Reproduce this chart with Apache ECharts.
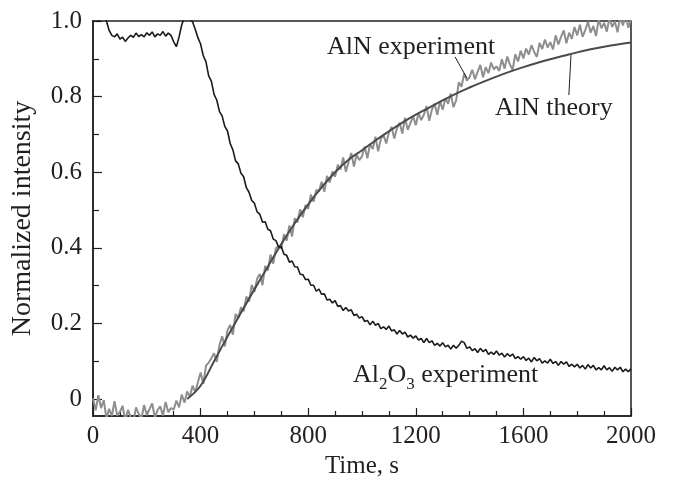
<!DOCTYPE html>
<html>
<head>
<meta charset="utf-8">
<script src="https://cdn.jsdelivr.net/npm/echarts@6/dist/echarts.min.js"></script>
<style>html,body{margin:0;padding:0;background:#fff}#c{width:673px;height:478px}</style>
</head>
<body>
<div id="c"></div>
<script>
// time grid (s) for the measured curves, step 10 s
var timeStep = 10;
// Al2O3 experiment (black)
var al2o3Exp = [
1.00,1.01,1.00,1.02,1.01,1.00,0.975,0.962,0.958,0.966,
0.952,0.957,0.946,0.955,0.962,0.957,0.968,0.959,0.964,0.958,
0.969,0.962,0.971,0.958,0.966,0.962,0.972,0.960,0.968,0.962,
0.945,0.932,0.958,0.990,1.010,1.010,1.005,0.998,0.978,0.956,
0.939,0.908,0.892,0.855,0.841,0.806,0.791,0.761,0.749,0.721,
0.709,0.676,0.659,0.630,0.622,0.597,0.588,0.559,0.547,0.525,
0.518,0.495,0.489,0.468,0.469,0.449,0.445,0.423,0.419,0.402,
0.403,0.383,0.380,0.362,0.365,0.350,0.349,0.330,0.329,0.316,
0.317,0.301,0.301,0.285,0.291,0.277,0.278,0.262,0.264,0.254,
0.260,0.245,0.247,0.234,0.242,0.233,0.236,0.221,0.224,0.214,
0.218,0.205,0.208,0.196,0.206,0.195,0.200,0.186,0.191,0.184,
0.193,0.180,0.183,0.172,0.181,0.172,0.177,0.164,0.169,0.161,
0.167,0.156,0.160,0.149,0.160,0.149,0.154,0.142,0.147,0.140,
0.149,0.138,0.142,0.132,0.142,0.134,0.142,0.153,0.149,0.134,
0.138,0.128,0.133,0.123,0.134,0.125,0.131,0.118,0.124,0.118,
0.127,0.116,0.121,0.111,0.120,0.113,0.119,0.107,0.112,0.105,
0.112,0.102,0.108,0.098,0.110,0.101,0.107,0.095,0.101,0.095,
0.105,0.094,0.099,0.089,0.099,0.092,0.098,0.086,0.092,0.085,
0.092,0.082,0.089,0.079,0.091,0.082,0.089,0.077,0.083,0.077,
0.088,0.077,0.083,0.073,0.084,0.077,0.084,0.072,0.079,0.072,
0.080
];
// AlN experiment (grey)
var alnExp = [
0.002,-0.030,0.010,-0.024,-0.003,-0.052,-0.026,-0.045,-0.006,-0.044,
-0.034,-0.018,-0.057,-0.029,-0.048,-0.061,-0.022,-0.040,-0.052,-0.016,
-0.043,-0.027,-0.012,-0.049,-0.030,-0.019,-0.044,-0.008,-0.035,-0.024,
-0.028,-0.004,-0.022,0.012,-0.010,0.020,0.006,0.035,0.018,0.044,
0.070,0.040,0.088,0.096,0.108,0.121,0.098,0.142,0.166,0.139,
0.182,0.196,0.170,0.225,0.214,0.243,0.232,0.271,0.258,0.302,
0.283,0.318,0.331,0.301,0.352,0.340,0.382,0.358,0.399,0.405,
0.398,0.436,0.419,0.459,0.430,0.478,0.467,0.502,0.481,0.513,
0.503,0.541,0.522,0.553,0.549,0.575,0.548,0.590,0.573,0.602,
0.588,0.620,0.607,0.639,0.601,0.627,0.651,0.615,0.646,0.632,
0.642,0.668,0.637,0.675,0.661,0.694,0.655,0.688,0.699,0.676,
0.705,0.720,0.689,0.716,0.731,0.702,0.744,0.712,0.730,0.748,
0.724,0.756,0.738,0.752,0.775,0.736,0.766,0.781,0.752,0.788,
0.765,0.796,0.781,0.808,0.772,0.790,0.838,0.826,0.861,0.842,
0.852,0.871,0.846,0.866,0.884,0.851,0.878,0.862,0.890,0.872,
0.880,0.868,0.899,0.874,0.906,0.885,0.871,0.912,0.893,0.921,
0.901,0.927,0.911,0.936,0.918,0.905,0.942,0.926,0.951,0.930,
0.944,0.925,0.962,0.938,0.958,0.975,0.941,0.969,0.953,0.984,
0.962,0.990,0.958,0.976,0.998,0.969,0.987,0.960,1.005,0.981,
0.995,0.972,1.008,0.984,0.999,0.970,1.012,0.988,1.017,0.982,
1.005
];
// AlN theory (smooth), times and values
var theoryTime = [350,400,450,500,550,600,650,700,750,800,850,900,950,1000,1050,1100,1150,1200,1250,1300,1350,1400,1450,1500,1550,1600,1650,1700,1750,1800,1850,1900,1950,2000];
var theoryVal  = [0.0,0.035,0.10,0.165,0.228,0.29,0.35,0.41,0.465,0.515,0.56,0.60,0.633,0.658,0.684,0.708,0.731,0.752,0.771,0.79,0.808,0.824,0.839,0.853,0.866,0.878,0.889,0.899,0.908,0.917,0.925,0.932,0.938,0.943];
// axis ticks
var yLabels = [0,0.2,0.4,0.6,0.8,1.0];
var yMinor = [0.1,0.3,0.5,0.7,0.9];

function pairs(arr){ return arr.map(function(v,i){ return [i*timeStep, v]; }); }
var theoryData = theoryTime.map(function(t,i){ return [t, theoryVal[i]]; });

var FONT = '"Liberation Serif", "DejaVu Serif", serif';
var TXT = '#231f20';

var chart = echarts.init(document.getElementById('c'), null, {renderer:'canvas'});
chart.setOption({
  animation:false,
  backgroundColor:'#fff',
  grid:{left:93, top:21, right:42, bottom:62, show:true, borderColor:'#231f20', borderWidth:1.5, backgroundColor:'transparent', outerBoundsMode:'none'},
  xAxis:{
    type:'value', min:0, max:2000, interval:400,
    axisLine:{show:true, onZero:false, lineStyle:{color:'#231f20', width:1.5}},
    axisTick:{show:true, inside:true, length:8, lineStyle:{color:'#231f20', width:1.2}},
    minorTick:{show:true, splitNumber:4, length:5, lineStyle:{color:'#231f20', width:1.2}},
    splitLine:{show:false},
    axisLabel:{fontFamily:FONT, fontSize:25, color:TXT, margin:8, formatter:function(v){ return String(v); }},
    name:'Time, s', nameLocation:'middle', nameGap:35,
    nameTextStyle:{fontFamily:FONT, fontSize:25, color:TXT}
  },
  yAxis:[{
    type:'value', min:-0.045, max:1.0,
    axisLine:{show:true, onZero:false, lineStyle:{color:'#231f20', width:1.5}},
    axisTick:{show:true, inside:true, length:9, customValues:yLabels, lineStyle:{color:'#231f20', width:1.2}},
    splitLine:{show:false},
    axisLabel:{fontFamily:FONT, fontSize:25, color:TXT, margin:11, customValues:yLabels,
      formatter:function(v){ return v===0 ? '0' : v.toFixed(1); }},
    name:'Normalized intensity', nameLocation:'middle', nameGap:56, nameRotate:90,
    nameTextStyle:{fontFamily:FONT, fontSize:28, color:TXT}
  },{
    type:'value', min:-0.045, max:1.0, position:'left',
    axisLine:{show:false},
    axisTick:{show:true, inside:true, length:6, customValues:yMinor, lineStyle:{color:'#231f20', width:1.2}},
    axisLabel:{show:false}, splitLine:{show:false}
  }],
  series:[
    {name:'AlN experiment', type:'line', data:pairs(alnExp), showSymbol:false, symbol:'none', clip:true,
     lineStyle:{color:'#8e8e8e', width:2}, z:2},
    {name:'AlN theory', type:'line', data:theoryData, smooth:0.4, showSymbol:false, symbol:'none', clip:true,
     lineStyle:{color:'#4a4a4a', width:2}, z:3,
     markLine:{silent:true, symbol:'none', lineStyle:{color:'#231f20', width:1, type:'solid'}, label:{show:false},
       data:[
         [{coord:[1346,0.905]},{coord:[1390,0.849]}],
         [{coord:[1777,0.910]},{coord:[1769,0.804]}]
       ]}},
    {name:'Al2O3 experiment', type:'line', data:pairs(al2o3Exp), showSymbol:false, symbol:'none', clip:true,
     lineStyle:{color:'#1a1a1a', width:1.6}, z:4}
  ],
  graphic:[
    {type:'text', left:327, top:34, style:{text:'AlN experiment', font:'26px ' + FONT, fill:TXT}},
    {type:'text', left:495, top:95, style:{text:'AlN theory', font:'26px ' + FONT, fill:TXT}},
    {type:'text', left:353, top:362, style:{
      text:'{a|Al}{s|2}{a|O}{s|3}{a| experiment}',
      rich:{
        a:{fontFamily:FONT, fontSize:26, fill:TXT, lineHeight:36, verticalAlign:'middle'},
        s:{fontFamily:FONT, fontSize:17, fill:TXT, lineHeight:17, verticalAlign:'bottom'}
      }}}
  ]
});
</script>
</body>
</html>
